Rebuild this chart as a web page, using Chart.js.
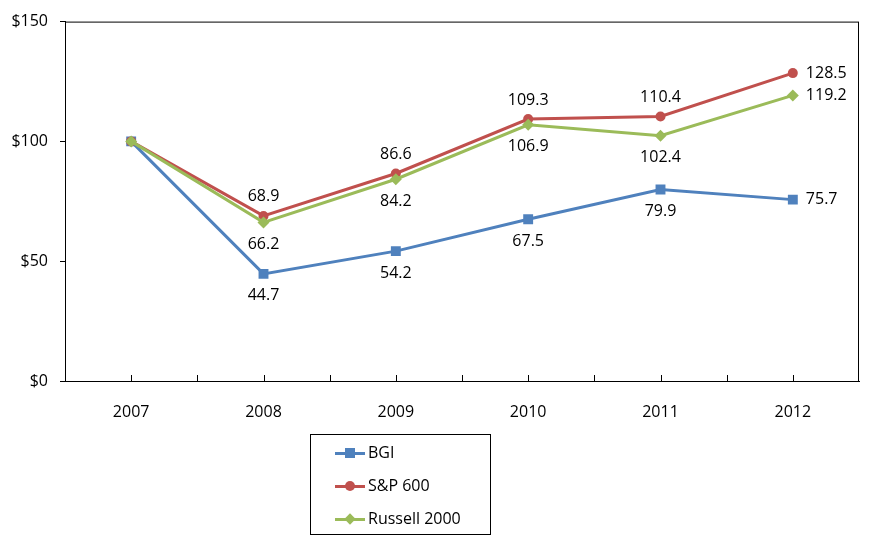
<!DOCTYPE html>
<html>
<head>
<meta charset="utf-8">
<script src="https://cdn.jsdelivr.net/npm/chart.js@4"></script>
<style>
    body { margin: 0; background: #fff; font-family: 'Open Sans', sans-serif; }
    #wrap { position: relative; width: 884px; height: 551px; }
    #grafico { position: absolute; left: 0; top: 0; }
    .custom-legend {
        position: absolute; left: 310px; top: 434px; width: 181px; height: 101px;
        border: 1px solid #000; list-style: none; margin: 0; padding: 0; box-sizing: border-box;
    }
    .custom-legend li { position: absolute; left: 24px; height: 20px; font-size: 16px; line-height: 20px; color: #000; }
    .legend-line { position: absolute; left: 0; top: 9px; width: 30px; height: 3px; }
    .legend-mark { position: absolute; }
    .legend-text { position: absolute; left: 33px; top: -1px; white-space: nowrap; }
</style>
</head>
<body>
<div id="wrap">
    <canvas id="grafico" width="884" height="551"></canvas>
    <ul class="custom-legend"></ul>
</div>
<script>
const anos = ['2007', '2008', '2009', '2010', '2011', '2012'];
const bgi = [100, 44.7, 54.2, 67.5, 79.9, 75.7];
const sp600 = [100, 68.9, 86.6, 109.3, 110.4, 128.5];
const russell = [100, 66.2, 84.2, 106.9, 102.4, 119.2];
const nomes = ['BGI', 'S&P 600', 'Russell 2000'];
const cores = ['#4F81BD', '#C0504D', '#9BBB59'];
const marcadores = ['rect', 'circle', 'rectRot'];
// posição do rótulo de cada ponto: 'below', 'above', 'right' ou null
const posRotulos = [
    [null, 'below', 'below', 'below', 'below', 'right'],
    [null, 'above', 'above', 'above', 'above', 'right'],
    [null, 'below', 'below', 'below', 'below', 'right']
];

const fonte = "'Open Sans', sans-serif";

// moldura da área do gráfico e marcas do eixo x
const moldura = {
    id: 'moldura',
    afterDraw(chart) {
        const ctx = chart.ctx;
        const a = chart.chartArea;
        const x = chart.scales.x;
        ctx.save();
        ctx.strokeStyle = '#000';
        ctx.lineWidth = 1;
        ctx.strokeRect(a.left + 0.5, a.top + 0.5, a.right - a.left - 1, a.bottom - a.top);
        const passo = (x.getPixelForValue(1) - x.getPixelForValue(0)) / 2;
        ctx.beginPath();
        for (let px = a.left + passo; px < a.right - 2; px += passo) {
            const xx = Math.round(px) + 0.5;
            ctx.moveTo(xx, a.bottom);
            ctx.lineTo(xx, a.bottom - 6);
        }
        ctx.stroke();
        ctx.restore();
    }
};

// rótulos de dados
const rotulos = {
    id: 'rotulos',
    afterDatasetsDraw(chart) {
        const ctx = chart.ctx;
        ctx.save();
        ctx.font = '16px ' + fonte;
        ctx.fillStyle = '#000';
        chart.data.datasets.forEach((ds, d) => {
            const meta = chart.getDatasetMeta(d);
            const k = nomes.indexOf(ds.label);
            meta.data.forEach((p, i) => {
                const pos = posRotulos[k][i];
                if (!pos) return;
                const txt = ds.data[i].toFixed(1);
                if (pos === 'right') {
                    ctx.textAlign = 'left';
                    ctx.textBaseline = 'middle';
                    ctx.fillText(txt, p.x + 13, p.y);
                } else {
                    ctx.textAlign = 'center';
                    ctx.textBaseline = 'middle';
                    ctx.fillText(txt, p.x, pos === 'above' ? p.y - 19 : p.y + 22);
                }
            });
        });
        ctx.restore();
    }
};

document.addEventListener('DOMContentLoaded', function() {
    const ctx = document.getElementById('grafico').getContext('2d');
    const series = [bgi, sp600, russell];
    const raios = [7, 5, 6];

    const data = {
        labels: anos,
        datasets: series.map((s, i) => ({
            label: nomes[i],
            data: s,
            borderColor: cores[i],
            backgroundColor: cores[i],
            borderWidth: 3,
            pointStyle: marcadores[i],
            pointRadius: raios[i],
            pointBorderWidth: 0,
            tension: 0
        })).reverse()
    };

    new Chart(ctx, {
        type: 'line',
        data: data,
        options: {
            responsive: false,
            animation: false,
            layout: { padding: { top: 19, right: 25, bottom: 130, left: 0 } },
            plugins: { legend: { display: false }, tooltip: { enabled: false } },
            scales: {
                x: {
                    offset: true,
                    grid: { display: false },
                    border: { color: '#000', width: 1 },
                    ticks: { color: '#000', font: { family: fonte, size: 16 }, padding: 14 },
                    afterFit(scale) { scale.height = 40; }
                },
                y: {
                    min: 0, max: 150,
                    ticks: {
                        stepSize: 50, color: '#000', padding: 12,
                        font: { family: fonte, size: 16 },
                        callback: v => '$' + v
                    },
                    grid: { drawOnChartArea: false, tickLength: 5, color: '#000' },
                    border: { color: '#000', width: 1 },
                    afterFit(scale) { scale.width = 65; }
                }
            }
        },
        plugins: [moldura, rotulos]
    });

    // legenda personalizada
    const legenda = document.querySelector('.custom-legend');
    let html = '';
    for (let i = 0; i < nomes.length; i++) {
        let marca;
        if (i === 0) marca = 'left:10px;top:5px;width:10px;height:10px;';
        else if (i === 1) marca = 'left:10px;top:5px;width:10px;height:10px;border-radius:50%;';
        else marca = 'left:11px;top:6px;width:8px;height:8px;transform:rotate(45deg);';
        html += `<li style="top:${8 + i * 33}px"><span class="legend-line" style="background:${cores[i]}"></span>` +
            `<span class="legend-mark" style="${marca}background:${cores[i]}"></span>` +
            `<span class="legend-text">${nomes[i]}</span></li>`;
    }
    legenda.innerHTML = html;
});
</script>
</body>
</html>
